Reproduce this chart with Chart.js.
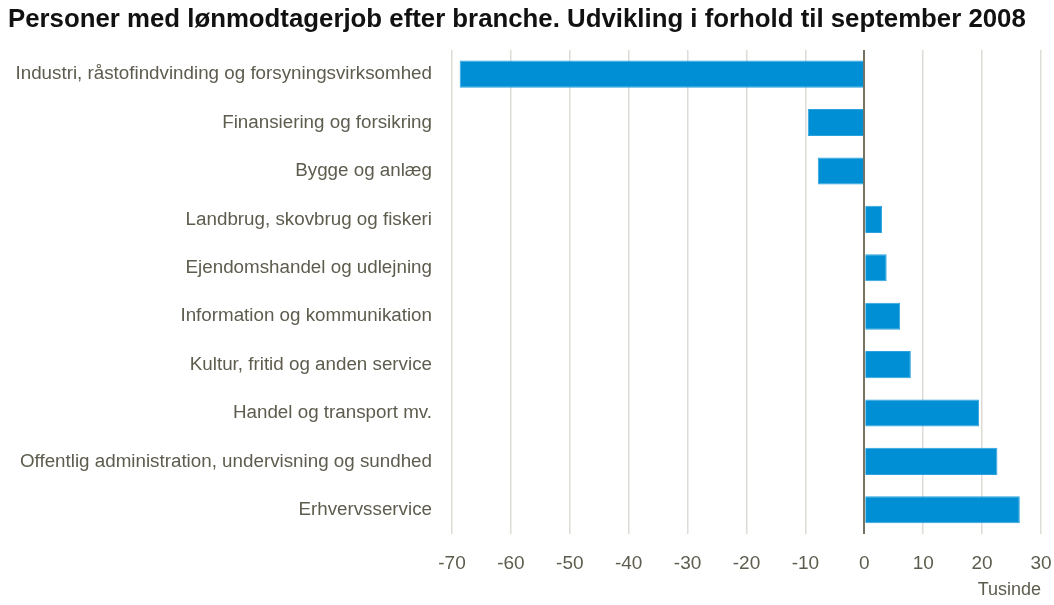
<!DOCTYPE html>
<html>
<head>
<meta charset="utf-8">
<script src="https://cdn.jsdelivr.net/npm/chart.js@4.4.1/dist/chart.umd.min.js"></script>
<style>
  html, body { margin: 0; padding: 0; background: #fff; }
  #wrap { width: 1054px; height: 605px; }
</style>
</head>
<body>
<div id="wrap"><canvas id="barChart" width="1054" height="605"></canvas></div>
<script>
var categories = [
  "Industri, råstofindvinding og forsyningsvirksomhed",
  "Finansiering og forsikring",
  "Bygge og anlæg",
  "Landbrug, skovbrug og fiskeri",
  "Ejendomshandel og udlejning",
  "Information og kommunikation",
  "Kultur, fritid og anden service",
  "Handel og transport mv.",
  "Offentlig administration, undervisning og sundhed",
  "Erhvervsservice"
];
var changes = [-68.7, -9.6, -7.9, 3.0, 3.8, 6.1, 7.9, 19.5, 22.6, 26.4];
var xTicks = [-70, -60, -50, -40, -30, -20, -10, 0, 10, 20, 30];

var labelFont = "'Liberation Sans', Arial, sans-serif";
var textColor = '#5d5c4e';

var ctx = document.getElementById("barChart");
var barChart = new Chart(ctx, {
  type: 'bar',
  data: {
    labels: categories,
    datasets: [{
      label: 'Tusinde',
      data: changes,
      backgroundColor: '#008fd5',
      borderColor: '#2aa2de',
      borderWidth: 1,
      barPercentage: 0.56,
      categoryPercentage: 1
    }]
  },
  options: {
    indexAxis: 'y',
    responsive: false,
    animation: false,
    layout: { padding: { left: 8, right: 13, top: 0, bottom: 0 } },
    plugins: {
      legend: { display: false },
      tooltip: { enabled: false },
      title: {
        display: true,
        text: 'Personer med lønmodtagerjob efter branche. Udvikling i forhold til september 2008',
        align: 'start',
        color: '#111',
        font: { family: "'Liberation Sans', Arial, sans-serif", size: 25.8, weight: 'bold' },
        padding: { top: 4, bottom: 15 }
      }
    },
    scales: {
      x: {
        min: -70,
        max: 30,
        afterBuildTicks: function (axis) {
          axis.ticks = xTicks.map(function (v) { return { value: v }; });
        },
        afterFit: function (axis) {
          axis.height = 71;
          axis.paddingLeft = 0;
          axis.paddingRight = 0;
        },
        border: { display: false },
        grid: {
          drawTicks: false,
          color: function (c) { return c.tick && c.tick.value === 0 ? '#777261' : '#dedcd6'; },
          lineWidth: function (c) { return c.tick && c.tick.value === 0 ? 2 : 1.5; }
        },
        ticks: {
          padding: 18,
          color: textColor,
          font: { family: labelFont, size: 19 }
        },
        title: {
          display: true,
          text: 'Tusinde',
          align: 'end',
          color: textColor,
          padding: { top: 0 },
          font: { family: labelFont, size: 18 }
        }
      },
      y: {
        afterFit: function (axis) { axis.width = 444; },
        border: { display: false },
        grid: { display: false },
        ticks: {
          padding: 12,
          color: textColor,
          font: { family: labelFont, size: 18.8 }
        }
      }
    }
  }
});
</script>
</body>
</html>
